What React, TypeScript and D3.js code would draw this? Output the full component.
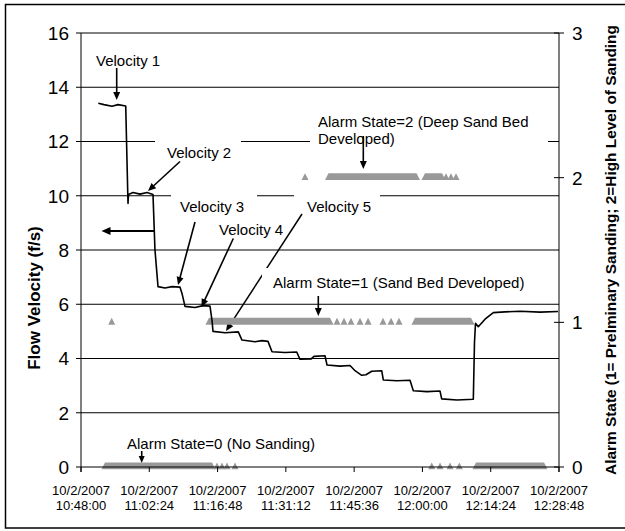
import React from 'react';
import * as d3 from 'd3';

// Time axis: minutes after 10/2/2007 10:48:00
const velocityMinutes = [3.65, 4.85, 6.54, 7.8, 9.43, 9.91, 10.02, 10.97, 12.44, 13.92, 15.18, 15.6, 16.24, 17.71, 19.19, 20.88, 21.3, 21.93, 24.04, 25.73, 27.2, 27.63, 27.84, 30.37, 33.17, 33.95, 36.69, 38.17, 39.43, 40.28, 43.02, 45.49, 46.18, 48.5, 49.13, 51.45, 51.88, 54.62, 56.73, 57.79, 59.19, 60.1, 61.3, 63.41, 63.75, 66.64, 69.38, 70.08, 72.96, 75.71, 76.06, 79.29, 82.73, 82.98, 83.19, 83.78, 85.2, 86.95, 89.41, 92.58, 96.79, 100.59];
const velocityValues = [13.41, 13.36, 13.3, 13.36, 13.31, 9.72, 10.05, 10.12, 10.06, 10.12, 10.05, 8.0, 6.65, 6.6, 6.65, 6.63, 6.4, 5.92, 5.88, 5.95, 5.93, 5.4, 5.0, 4.95, 4.98, 4.68, 4.62, 4.66, 4.63, 4.25, 4.22, 4.24, 3.97, 3.98, 4.08, 4.1, 3.76, 3.72, 3.74, 3.55, 3.38, 3.4, 3.53, 3.55, 3.21, 3.18, 3.2, 2.81, 2.78, 2.8, 2.51, 2.47, 2.5, 4.6, 5.3, 5.17, 5.45, 5.69, 5.72, 5.74, 5.71, 5.73];

// Continuous alarm-state runs (start/end minute, state)
const alarmRunStart = [5.06, 83.3, 26.99, 70.43, 52.19, 72.54];
const alarmRunEnd = [27.63, 97.64, 52.51, 82.24, 70.75, 76.13];
const alarmRunState = [0, 0, 1, 1, 2, 2];

// Isolated alarm-state readings
const alarmPointMinutes = [28.68, 29.73, 30.79, 32.48, 73.96, 75.71, 77.82, 79.78, 6.47, 53.99, 55.46, 56.94, 58.84, 60.53, 63.69, 65.38, 67.06, 47.24, 76.97, 78.02, 79.08];
const alarmPointStates = [0, 0, 0, 0, 0, 0, 0, 0, 1, 1, 1, 1, 1, 1, 1, 1, 1, 2, 2, 2, 2];

const yLeftTicks = [0, 2, 4, 6, 8, 10, 12, 14, 16];
const yRightTicks = [0, 1, 2, 3];
const xTickMinutes = [0, 14.4, 28.8, 43.2, 57.6, 72, 86.4, 100.8];
const xTickDates = ['10/2/2007', '10/2/2007', '10/2/2007', '10/2/2007', '10/2/2007', '10/2/2007', '10/2/2007', '10/2/2007'];
const xTickTimes = ['10:48:00', '11:02:24', '11:16:48', '11:31:12', '11:45:36', '12:00:00', '12:14:24', '12:28:48'];

const FONT = "Arial, 'Liberation Sans', sans-serif";

function Arrow({ x1, y1, x2, y2, w = 1.6, hl = 8, hw = 7 }: any) {
  const dx = x2 - x1, dy = y2 - y1;
  const len = Math.sqrt(dx * dx + dy * dy);
  const ux = dx / len, uy = dy / len;
  const bx = x2 - ux * hl, by = y2 - uy * hl;
  const px = -uy * hw / 2, py = ux * hw / 2;
  return (
    <g>
      <line x1={x1} y1={y1} x2={bx + ux} y2={by + uy} stroke="#000" strokeWidth={w} />
      <path d={`M${x2},${y2}L${bx + px},${by + py}L${bx - px},${by - py}Z`} fill="#000" />
    </g>
  );
}

export default function App() {
  const left = 81, right = 559, top = 33, bottom = 467;
  const x = d3.scaleLinear().domain([0, 100.8]).range([left, right]);
  const yL = d3.scaleLinear().domain([0, 16]).range([bottom, top]);
  const yR = d3.scaleLinear().domain([0, 3]).range([bottom, top]);

  const line = d3.line<number>()
    .x((_, i) => x(velocityMinutes[i]))
    .y((d) => yL(d));

  const triTop = 4.5, triBase = 2.3, triHalf = 3.5;
  const triPath = (cx: number, cy: number) =>
    `M${cx - triHalf},${cy + triBase}L${cx},${cy - triTop}L${cx + triHalf},${cy + triBase}Z`;
  const runPath = (x0: number, x1: number, cy: number) =>
    `M${x0 - triHalf},${cy + triBase}L${x0},${cy - triTop}L${x1},${cy - triTop}L${x1 + triHalf},${cy + triBase}Z`;

  const annot = { fontFamily: FONT, fontSize: 15, fill: '#000' } as any;

  return (
    <svg width={625} height={531} style={{ position: 'absolute', left: 0, top: 0, background: '#fff' }}>
      <rect x={0} y={0} width={625} height={531} fill="#fff" />
      <rect x={5.5} y={4.5} width={640} height={523.5} fill="none" stroke="#000" strokeWidth={1.5} />

      {/* gridlines */}
      {yLeftTicks.filter((t) => t > 0).map((t) => (
        <line key={'g' + t} x1={left} x2={right} y1={yL(t)} y2={yL(t)} stroke="#000" strokeWidth={1} />
      ))}

      {/* text boxes hiding gridlines */}
      <rect x={155} y={137} width={86} height={25} fill="#fff" />
      <rect x={171} y={191} width={86} height={26} fill="#fff" />
      <rect x={294} y={191} width={86} height={26} fill="#fff" />
      <rect x={310} y={108} width={238} height={42} fill="#fff" />
      <Arrow x1={302} y1={214} x2={226} y2={331} w={1.5} />
      <rect x={262} y={268} width={278} height={30} fill="#fff" />

      {/* annotation texts */}
      <text x={96} y={66} {...annot}>Velocity 1</text>
      <text x={167} y={158} {...annot}>Velocity 2</text>
      <text x={180} y={212} {...annot}>Velocity 3</text>
      <text x={219} y={235} {...annot}>Velocity 4</text>
      <text x={307} y={212} {...annot}>Velocity 5</text>
      <text x={318} y={126.5} {...annot}>Alarm State=2 (Deep Sand Bed</text>
      <text x={318} y={143.5} {...annot}>Developed)</text>
      <text x={273} y={288} {...annot}>Alarm State=1 (Sand Bed Developed)</text>
      <text x={127} y={449} {...annot}>Alarm State=0 (No Sanding)</text>

      {/* arrows */}
      <Arrow x1={116.7} y1={68} x2={116.7} y2={100} />
      <Arrow x1={180} y1={161.5} x2={148} y2={191} />
      <Arrow x1={195} y1={222} x2={178} y2={285} />
      <Arrow x1={233.3} y1={238.5} x2={201.5} y2={307} />
      <Arrow x1={363.3} y1={136} x2={363.3} y2={169} />
      <Arrow x1={318.3} y1={296} x2={318.3} y2={316} />
      <Arrow x1={141.7} y1={451} x2={141.7} y2={463} hl={7} hw={6} />
      <Arrow x1={155} y1={231} x2={101.5} y2={231} w={2.2} hl={9} hw={8} />

      {/* alarm state markers */}
      <g fill="#999999">
        {alarmRunStart.map((s, i) => (
          <path key={'r' + i} d={runPath(x(s), x(alarmRunEnd[i]), yR(alarmRunState[i]))} />
        ))}
        {alarmPointMinutes.map((m, i) => (
          <path key={'p' + i} d={triPath(x(m), yR(alarmPointStates[i]))} />
        ))}
      </g>

      {/* velocity line */}
      <path d={line(velocityValues) || ''} fill="none" stroke="#000" strokeWidth={1.6} strokeLinejoin="round" />

      {/* axes */}
      <line x1={left} x2={left} y1={top} y2={bottom + 5} stroke="#000" strokeWidth={1} />
      <line x1={right} x2={right} y1={top} y2={bottom + 5} stroke="#000" strokeWidth={1} />
      <line x1={left} x2={right} y1={bottom} y2={bottom} stroke="#000" strokeWidth={1} />
      {yLeftTicks.map((t) => (
        <g key={'yl' + t}>
          <line x1={left - 5} x2={left} y1={yL(t)} y2={yL(t)} stroke="#000" />
          <text x={69} y={yL(t)} dy="0.36em" textAnchor="end" fontFamily={FONT} fontSize={19}>{t}</text>
        </g>
      ))}
      {yRightTicks.map((t) => (
        <g key={'yr' + t}>
          <line x1={right - 5} x2={right + 5} y1={yR(t)} y2={yR(t)} stroke="#000" />
          <text x={572} y={yR(t)} dy="0.36em" textAnchor="start" fontFamily={FONT} fontSize={19}>{t}</text>
        </g>
      ))}
      {xTickMinutes.map((m, i) => (
        <g key={'xt' + i}>
          <line x1={x(m)} x2={x(m)} y1={bottom} y2={bottom + 5} stroke="#000" />
          <text x={x(m)} y={494.5} textAnchor="middle" fontFamily={FONT} fontSize={13}>{xTickDates[i]}</text>
          <text x={x(m)} y={510} textAnchor="middle" fontFamily={FONT} fontSize={13}>{xTickTimes[i]}</text>
        </g>
      ))}

      {/* axis titles */}
      <text transform="translate(40,298) rotate(-90)" textAnchor="middle" fontFamily={FONT} fontSize={17} fontWeight="bold">Flow Velocity (f/s)</text>
      <text transform="translate(616,250) rotate(-90)" textAnchor="middle" fontFamily={FONT} fontSize={15.4} fontWeight="bold">Alarm State (1= Prelminary Sanding; 2=High Level of Sanding</text>
    </svg>
  );
}
